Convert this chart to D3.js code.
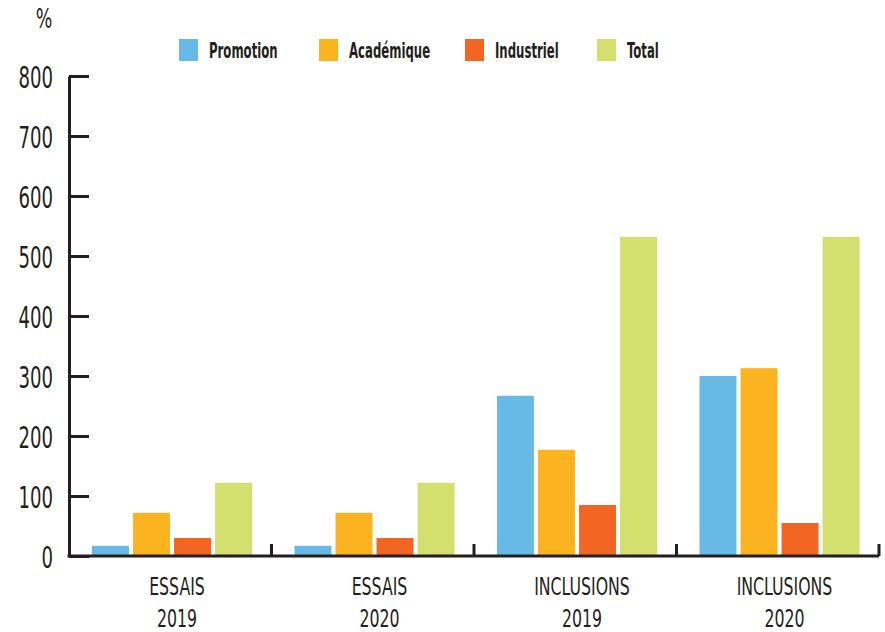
<!DOCTYPE html>
<html>
<head>
<meta charset="utf-8">
<script src="https://cdn.jsdelivr.net/npm/d3@7"></script>
<style>
  html, body { margin: 0; padding: 0; background: #ffffff; }
  svg { display: block; }
  text { font-family: "DejaVu Sans Condensed", "DejaVu Sans", sans-serif; fill: #231f20; }
</style>
</head>
<body>
<svg id="chart" width="885" height="632"></svg>
<script>
const categories = ["ESSAIS 2019", "ESSAIS 2020", "INCLUSIONS 2019", "INCLUSIONS 2020"];
const seriesNames = ["Promotion", "Académique", "Industriel", "Total"];
const promotion  = [17, 17, 267, 300];
const academique = [72, 72, 177, 313];
const industriel = [30, 30, 85, 55];
const total      = [122, 122, 532, 532];
const yTicks = [0, 100, 200, 300, 400, 500, 600, 700, 800];
const colors = ["#67bae5", "#fbb41f", "#f26522", "#d4e06d"];
const yUnit = "%";

const seriesValues = [promotion, academique, industriel, total];
const data = categories.map((c, i) => ({
  cat: c,
  values: seriesNames.map((s, j) => ({ series: s, value: seriesValues[j][i] }))
}));

const svg = d3.select("#chart");
const ink = "#231f20";
const mLeft = 69, mRight = 879, mTop = 76, mBottom = 556;

const x = d3.scaleBand().domain(categories).range([mLeft, mRight]).paddingInner(0).paddingOuter(0);
const xInner = d3.scaleBand().domain(seriesNames).range([23, 183]).paddingInner(0.1).paddingOuter(0);
const y = d3.scaleLinear().domain([0, 800]).range([mBottom, mTop]);

// Bars
const groups = svg.append("g").selectAll("g")
  .data(data).join("g")
  .attr("transform", d => `translate(${x(d.cat)},0)`);
groups.selectAll("rect")
  .data(d => d.values).join("rect")
  .attr("x", d => xInner(d.series))
  .attr("width", xInner.bandwidth())
  .attr("y", d => y(d.value))
  .attr("height", d => y(0) - y(d.value))
  .attr("fill", (d, i) => colors[i]);

// Y axis
const fy = 0.67;
const yAxis = d3.axisLeft(y).tickValues(yTicks).tickSizeInner(-20).tickSizeOuter(0).tickPadding(15);
const yg = svg.append("g").attr("transform", `translate(${mLeft},0)`).call(yAxis);
yg.select(".domain").attr("stroke", ink).attr("stroke-width", 3);
yg.selectAll(".tick line").attr("stroke", ink).attr("stroke-width", 3);
yg.selectAll(".tick text")
  .style("font-size", "30px")
  .attr("x", -16 / fy)
  .attr("dy", "0.38em")
  .attr("transform", `scale(${fy},1)`)
  .attr("fill", ink);

// X axis baseline
const xAxis = d3.axisBottom(x).tickSize(0).tickFormat("");
const xg = svg.append("g").attr("transform", `translate(0,${mBottom})`).call(xAxis);
xg.select(".domain").attr("stroke", ink).attr("stroke-width", 3).attr("d", `M${mLeft - 1.5},0H${mRight}`);
// boundary ticks pointing up
xg.selectAll(".sep").data(categories).join("line")
  .attr("class", "sep")
  .attr("x1", d => x(d) + x.bandwidth())
  .attr("x2", d => x(d) + x.bandwidth())
  .attr("y1", 0).attr("y2", -12)
  .attr("stroke", ink).attr("stroke-width", 3);

// X labels (two lines)
const fx = 0.73;
const labels = svg.append("g").selectAll("text")
  .data(categories).join("text")
  .attr("text-anchor", "middle")
  .style("font-size", "24px")
  .attr("transform", d => `translate(${x(d) + 108},0) scale(${fx},1)`);
labels.append("tspan").attr("x", 0).attr("y", 595).text(d => d.slice(0, d.lastIndexOf(" ")));
labels.append("tspan").attr("x", 0).attr("y", 627).text(d => d.slice(d.lastIndexOf(" ") + 1));

// Unit label
svg.append("text").attr("text-anchor", "middle")
  .attr("transform", "translate(44,28) scale(0.72,1)")
  .style("font-size", "27px").text(yUnit);

// Legend
const fl = 0.62;
const legendX = [179, 319, 465, 597];
const legend = svg.append("g").selectAll("g")
  .data(seriesNames).join("g")
  .attr("transform", (d, i) => `translate(${legendX[i]},39)`);
legend.append("rect").attr("width", 19).attr("height", 22).attr("fill", (d, i) => colors[i]);
legend.append("text")
  .attr("transform", `translate(30,19) scale(${fl},1)`)
  .style("font-size", "21px").style("font-weight", "bold").text(d => d);
</script>
</body>
</html>
